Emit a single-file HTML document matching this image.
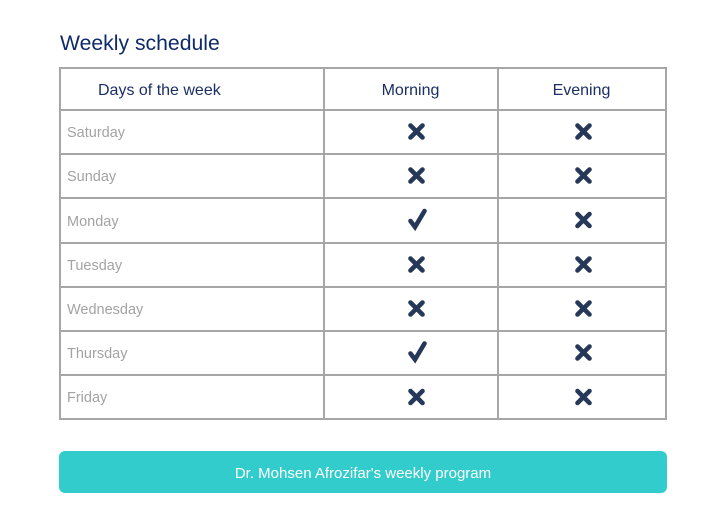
<!DOCTYPE html>
<html><head><meta charset="utf-8"><style>
html,body{margin:0;padding:0;background:#fff;}
body{width:724px;height:524px;position:relative;overflow:hidden;font-family:"Liberation Sans",Arial,sans-serif;}
.h{position:absolute;left:59px;width:608px;height:2px;background:#a6a6a6;}
.v{position:absolute;top:67px;width:2px;height:352px;background:#a6a6a6;}
.t{position:absolute;white-space:nowrap;}
.day{position:absolute;left:67px;font-size:14.5px;color:#a3a3a3;height:20px;line-height:20px;}
.hd{position:absolute;font-size:16px;color:#1b2f66;height:20px;line-height:20px;top:81px;}
.ic{position:absolute;}
</style></head><body>
<div class="t" style="left:60px;top:32px;font-size:21.2px;line-height:24px;color:#0f2a6b;">Weekly schedule</div>

<div class="h" style="top:67px"></div>
<div class="h" style="top:109px"></div>
<div class="h" style="top:153px"></div>
<div class="h" style="top:197px"></div>
<div class="h" style="top:242px"></div>
<div class="h" style="top:286px"></div>
<div class="h" style="top:330px"></div>
<div class="h" style="top:374px"></div>
<div class="h" style="top:418px"></div>
<div class="v" style="left:59px"></div>
<div class="v" style="left:323px"></div>
<div class="v" style="left:497px"></div>
<div class="v" style="left:665px"></div>

<div class="hd" style="left:98px;">Days of the week</div>
<div class="hd" style="left:324px;width:173px;text-align:center;">Morning</div>
<div class="hd" style="left:498px;width:167px;text-align:center;">Evening</div>

<div class="day" style="top:123px">Saturday</div>
<div class="day" style="top:167px">Sunday</div>
<div class="day" style="top:212px">Monday</div>
<div class="day" style="top:256px">Tuesday</div>
<div class="day" style="top:300px">Wednesday</div>
<div class="day" style="top:344px">Thursday</div>
<div class="day" style="top:388px">Friday</div>

<svg width="724" height="524" style="position:absolute;left:0;top:0" xmlns="http://www.w3.org/2000/svg">
<defs>
<g id="x"><path d="M-6,-6 L6,6 M6,-6 L-6,6" stroke="#263859" stroke-width="4.6" stroke-linecap="round" fill="none"/></g>
<g id="c"><path d="M-7,1.5 L-2.5,7.5 L7,-8.5" stroke="#263859" stroke-width="4.6" stroke-linecap="round" stroke-linejoin="miter" fill="none"/></g>
</defs>
<use href="#x" x="416.5" y="131.5"/><use href="#x" x="583.5" y="131.5"/>
<use href="#x" x="416.5" y="175.5"/><use href="#x" x="583.5" y="175.5"/>
<use href="#c" x="417.5" y="219.5"/><use href="#x" x="583.5" y="220"/>
<use href="#x" x="416.5" y="264.5"/><use href="#x" x="583.5" y="264.5"/>
<use href="#x" x="416.5" y="308.5"/><use href="#x" x="583.5" y="308.5"/>
<use href="#c" x="417.5" y="352"/><use href="#x" x="583.5" y="352.5"/>
<use href="#x" x="416.5" y="397"/><use href="#x" x="583.5" y="397"/>
</svg>

<div style="position:absolute;left:59px;top:451px;width:608px;height:40px;padding-top:2px;background:#33cccc;border-radius:6px;color:#fff;font-size:15px;line-height:42px;text-align:center;">Dr. Mohsen Afrozifar's weekly program</div>
</body></html>
